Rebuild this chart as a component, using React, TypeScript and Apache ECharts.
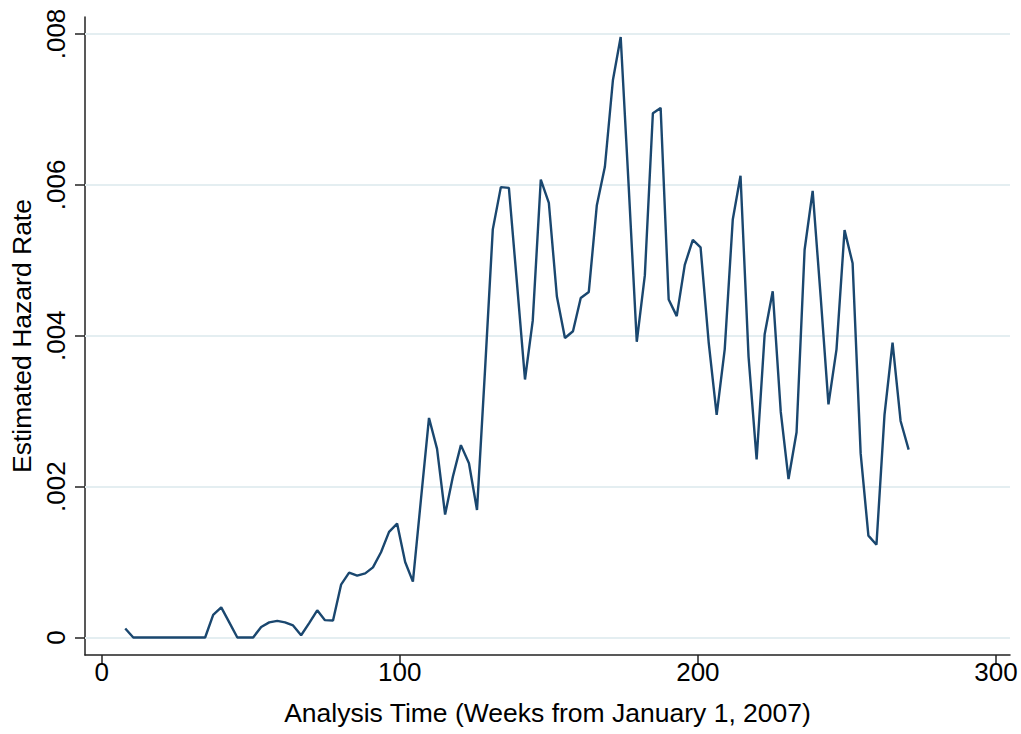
import React, { useEffect, useRef } from 'react';
import * as echarts from 'echarts';

const weeks = [
  7.9, 10.6, 13.3, 16.0, 18.7, 21.3, 24.0, 26.7, 29.4, 32.1,
  34.7, 37.4, 40.1, 42.8, 45.5, 48.1, 50.8, 53.5, 56.2, 58.9,
  61.5, 64.2, 66.9, 69.6, 72.3, 74.9, 77.6, 80.3, 83.0, 85.7,
  88.4, 91.0, 93.7, 96.4, 99.1, 101.8, 104.4, 107.1, 109.8, 112.5,
  115.2, 117.8, 120.5, 123.2, 125.9, 128.6, 131.2, 133.9, 136.6, 139.3,
  142.0, 144.6, 147.3, 150.0, 152.7, 155.4, 158.1, 160.7, 163.4, 166.1,
  168.8, 171.5, 174.1, 176.8, 179.5, 182.2, 184.9, 187.5, 190.2, 192.9,
  195.6, 198.3, 200.9, 203.6, 206.3, 209.0, 211.7, 214.3, 217.0, 219.7,
  222.4, 225.1, 227.8, 230.4, 233.1, 235.8, 238.5, 241.2, 243.8, 246.5,
  249.2, 251.9, 254.6, 257.2, 259.9, 262.6, 265.3, 268.0, 270.7,
];

const hazard = [
  0.00012, 0, 0, 0, 0, 0, 0, 0, 0, 0,
  0, 0.0003, 0.0004, 0.0002, 0, 0, 0, 0.00014, 0.0002, 0.00022,
  0.0002, 0.00016, 0.00003, 0.00019, 0.00036, 0.00023, 0.000225, 0.0007, 0.00086, 0.00082,
  0.00085, 0.00093, 0.00113, 0.0014, 0.00151, 0.001, 0.00074, 0.00183, 0.00291, 0.0025,
  0.00163, 0.00213, 0.00255, 0.00231, 0.00169, 0.00355, 0.00541, 0.00597, 0.00596, 0.0047,
  0.00342, 0.0042, 0.00607, 0.00576, 0.00452, 0.00397, 0.00406, 0.0045, 0.00458, 0.00573,
  0.00624, 0.00739, 0.00796, 0.00597, 0.00392, 0.0048, 0.00695, 0.00702, 0.00448, 0.00426,
  0.00494, 0.00527, 0.00517, 0.00392, 0.00295, 0.00382, 0.00554, 0.00612, 0.00372, 0.00236,
  0.00402, 0.00459, 0.00299, 0.0021, 0.00272, 0.00514, 0.00592, 0.00451, 0.00309, 0.00382,
  0.0054, 0.00496, 0.00244, 0.00135, 0.00123, 0.00295, 0.00391, 0.00287, 0.00249,
];

const xTicks = [0, 100, 200, 300];
const yTicks = [0, 0.002, 0.004, 0.006, 0.008];
const yTickLabels = ['0', '.002', '.004', '.006', '.008'];

const xTitle = 'Analysis Time (Weeks from January 1, 2007)';
const yTitle = 'Estimated Hazard Rate';

export default function App() {
  const ref = useRef<HTMLDivElement>(null);
  useEffect(() => {
    if (!ref.current) return;
    const chart = echarts.init(ref.current, null, { renderer: 'svg' });
    const font = '"Liberation Sans", Arial, sans-serif';
    const axisColor = '#222';
    const xMin = -5.6;
    const xMax = 304.7;
    chart.setOption({
      animation: false,
      backgroundColor: '#ffffff',
      grid: { left: 85, right: 11, top: 17, bottom: 79, containLabel: false },
      xAxis: {
        type: 'value',
        min: xMin,
        max: xMax,
        name: xTitle,
        nameLocation: 'middle',
        nameGap: 44,
        nameTextStyle: { fontFamily: font, fontSize: 26.5, color: '#000' },
        axisLine: { show: true, onZero: false, lineStyle: { color: axisColor, width: 1.5 } },
        axisTick: { show: true, length: 9, customValues: xTicks, lineStyle: { color: axisColor, width: 1.5 } },
        axisLabel: { customValues: xTicks, margin: 4, fontFamily: font, fontSize: 26, color: '#000' },
        splitLine: { show: false },
      },
      yAxis: {
        type: 'value',
        min: -0.000232,
        max: 0.008225,
        name: yTitle,
        nameLocation: 'middle',
        nameGap: 48,
        nameTextStyle: { fontFamily: font, fontSize: 26.5, color: '#000' },
        axisLine: { show: true, onZero: false, lineStyle: { color: axisColor, width: 1.5 } },
        axisTick: { show: true, length: 10, customValues: yTicks, lineStyle: { color: axisColor, width: 1.5 } },
        axisLabel: {
          customValues: yTicks,
          rotate: 90,
          margin: 16,
          fontFamily: font,
          fontSize: 26,
          color: '#000',
          formatter: (v: number) => {
            const i = yTicks.findIndex((t) => Math.abs(t - v) < 1e-9);
            return i >= 0 ? yTickLabels[i] : '';
          },
        },
        splitLine: { show: false },
      },
      series: [
        {
          type: 'line',
          data: [],
          z: 1,
          silent: true,
          markLine: {
            z: 1,
            silent: true,
            symbol: ['none', 'none'],
            label: { show: false },
            lineStyle: { color: '#e4eef1', width: 2, type: 'solid' },
            data: yTicks.map((t) => [
              { coord: [xMin, t] },
              { coord: [xMax, t] },
            ]),
          },
        },
        {
          type: 'line',
          z: 10,
          data: weeks.map((w, i) => [w, hazard[i]]),
          showSymbol: false,
          symbol: 'none',
          lineStyle: { color: '#1a476f', width: 2.4 },
        },
      ],
    });
    return () => chart.dispose();
  }, []);
  return (
    <div
      ref={ref}
      style={{ position: 'fixed', left: 0, top: 0, width: 1021, height: 734, background: '#fff' }}
    />
  );
}
